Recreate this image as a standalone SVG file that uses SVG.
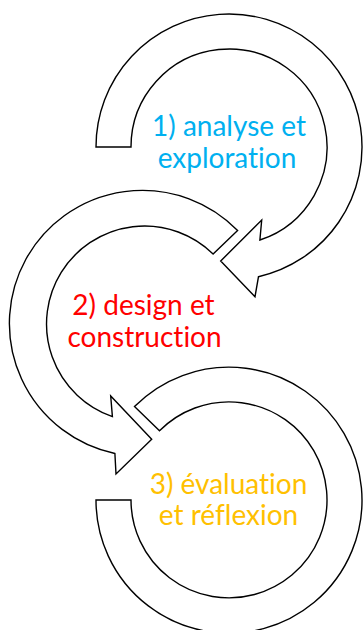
<svg xmlns="http://www.w3.org/2000/svg" width="363" height="630" viewBox="0 0 363 630">
<style>
.arr{fill:#fff;stroke:#000;stroke-width:1.4;stroke-linejoin:miter}
.lbl{font-family:Lato,"Liberation Sans",sans-serif;font-size:28px;text-anchor:middle;font-variant-ligatures:none}
</style>
<rect width="363" height="630" fill="#fff"/>
<g id="connectors">
<path id="arrow1" class="arr" d="M96,147 A133,133 0 1 1 258.5,276.7 L255,296.7 L220.7,261 L261.7,220 L259.9,240 A98,98 0 1 0 131,147 Z"/>
<path id="arrow2" class="arr" d="M237.6,230.5 A133,133 0 1 0 114.9,453.5 L116,474 L151.7,439.3 L110.7,396 L112.4,416.6 A98,98 0 1 1 213.1,254 Z"/>
<path id="arrow3" class="arr" d="M134.5,406.6 A133,133 0 1 1 96,500 L131,500 A98,98 0 1 0 159.5,430.8 Z"/>
</g>
<g id="node1">
<text class="lbl" fill="#00B0F0"><tspan x="229" y="135.5">1) analyse et</tspan><tspan x="227" y="167.5">exploration</tspan></text>
</g>
<g id="node2">
<text class="lbl" fill="#FF0000"><tspan x="143.5" y="315">2) design et</tspan><tspan x="144.5" y="346.5">construction</tspan></text>
</g>
<g id="node3">
<text class="lbl" fill="#FFC000"><tspan x="228.5" y="493.5">3) évaluation</tspan><tspan x="228.5" y="525">et réflexion</tspan></text>
</g>
</svg>
